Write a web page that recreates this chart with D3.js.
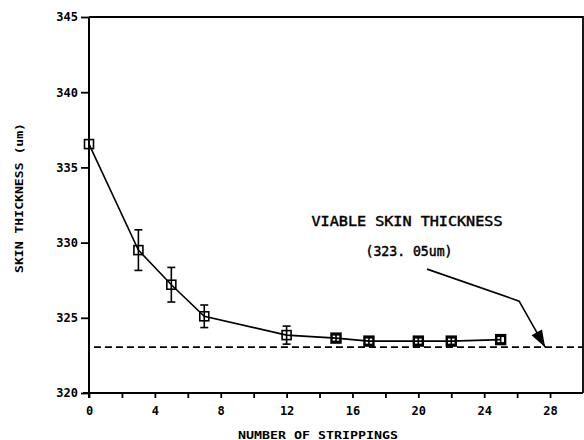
<!DOCTYPE html>
<html>
<head>
<meta charset="utf-8">
<script src="https://cdn.jsdelivr.net/npm/d3@7"></script>
<style>
  html, body { margin: 0; padding: 0; background: #fff; }
  svg { display: block; }
  text { fill: #000; }
</style>
</head>
<body>
<svg id="chart" width="584" height="440"></svg>
<script>
// Skin thickness after successive tape strippings
const strippings = [0, 3, 5, 7, 12, 15, 17, 20, 22, 25];
const thickness  = [336.55, 329.5, 327.2, 325.1, 323.85, 323.65, 323.45, 323.45, 323.45, 323.55];
const errHalf    = [0, 1.35, 1.15, 0.75, 0.6, 0.22, 0.22, 0.22, 0.22, 0.22];

const viableThickness = 323.05;
const arrowTipStripping = 27.7;

const xTicks = [0, 2, 4, 6, 8, 10, 12, 14, 16, 18, 20, 22, 24, 26, 28];
const xTickLabels = [0, 4, 8, 12, 16, 20, 24, 28];
const yTicks = [320, 325, 330, 335, 340, 345];

const xTitle = "NUMBER OF STRIPPINGS";
const yTitle = "SKIN THICKNESS (um)";
const noteLine1 = "VIABLE SKIN THICKNESS";
const noteLine2 = "(323. 05um)";

const svg = d3.select("#chart");
const plotL = 89, plotR = 583, plotT = 17, plotB = 393;

const x = d3.scaleLinear().domain([0, 30]).range([plotL, plotR]);
const y = d3.scaleLinear().domain([320, 345]).range([plotB, plotT]);

const mono = "'DejaVu Sans Mono', monospace";

// frame (top and right edges)
svg.append("path")
  .attr("d", `M${plotL},${plotT}H${plotR}V${plotB}`)
  .attr("fill", "none").attr("stroke", "#000").attr("stroke-width", 1.8);

// x axis
const xAxis = svg.append("g").attr("transform", `translate(0,${plotB})`)
  .call(d3.axisBottom(x).tickValues(xTicks).tickSize(5)
    .tickFormat(d => xTickLabels.includes(d) ? d : ""));
xAxis.select(".domain").attr("d", `M${plotL - 6},0H${plotR}`).attr("stroke-width", 2);
xAxis.selectAll(".tick line").attr("stroke-width", 1.8);
xAxis.selectAll(".tick text")
  .attr("font-family", mono).attr("font-weight", "bold").attr("font-size", 12)
  .attr("dy", "0.71em").attr("y", 13);

// y axis
const yAxis = svg.append("g").attr("transform", `translate(${plotL},0)`)
  .call(d3.axisLeft(y).tickValues(yTicks).tickSize(8).tickPadding(3));
yAxis.select(".domain").attr("d", `M0,${plotT}V${plotB + 5}`).attr("stroke-width", 2);
yAxis.selectAll(".tick line").attr("stroke-width", 1.8);
yAxis.selectAll(".tick text")
  .attr("font-family", mono).attr("font-weight", "bold").attr("font-size", 12);

// axis titles
svg.append("text")
  .attr("x", 318).attr("y", 439)
  .attr("text-anchor", "middle")
  .attr("font-family", mono).attr("font-weight", "bold").attr("font-size", 10)
  .attr("textLength", 160).attr("lengthAdjust", "spacingAndGlyphs")
  .text(xTitle);

svg.append("text")
  .attr("transform", `translate(23,198) rotate(-90)`)
  .attr("text-anchor", "middle")
  .attr("font-family", mono).attr("font-weight", "bold").attr("font-size", 10)
  .attr("textLength", 150).attr("lengthAdjust", "spacingAndGlyphs")
  .text(yTitle);

// viable thickness reference line
svg.append("line")
  .attr("x1", x(0.3)).attr("x2", plotR)
  .attr("y1", y(viableThickness)).attr("y2", y(viableThickness))
  .attr("stroke", "#000").attr("stroke-width", 1.6)
  .attr("stroke-dasharray", "7,4");

// data line
const pts = strippings.map((s, i) => ({ s, t: thickness[i], e: errHalf[i] }));
svg.append("path")
  .datum(pts)
  .attr("fill", "none").attr("stroke", "#000").attr("stroke-width", 1.6)
  .attr("d", d3.line().x(d => x(d.s)).y(d => y(d.t)));

// error bars
const eb = svg.append("g").attr("stroke", "#000").attr("stroke-width", 1.6);
pts.filter(d => d.e > 0).forEach(d => {
  const cx = x(d.s), y0 = y(d.t - d.e), y1 = y(d.t + d.e);
  eb.append("line").attr("x1", cx).attr("x2", cx).attr("y1", y0).attr("y2", y1);
  eb.append("line").attr("x1", cx - 4).attr("x2", cx + 4).attr("y1", y0).attr("y2", y0);
  eb.append("line").attr("x1", cx - 4).attr("x2", cx + 4).attr("y1", y1).attr("y2", y1);
});

// square markers (heavier where the bars sit inside the box)
svg.append("g").selectAll("rect").data(pts).join("rect")
  .attr("x", d => x(d.s) - 4.5).attr("y", d => y(d.t) - 4.5)
  .attr("width", 9).attr("height", 9)
  .attr("fill", "none").attr("stroke", "#000")
  .attr("stroke-width", d => d.e > 0 && d.e < 0.3 ? 2.4 : 1.6);

// annotation
svg.append("text")
  .attr("x", 407).attr("y", 226)
  .attr("text-anchor", "middle")
  .attr("font-family", mono).attr("font-size", 13.5)
  .attr("stroke", "#000").attr("stroke-width", 0.45)
  .attr("textLength", 191).attr("lengthAdjust", "spacingAndGlyphs")
  .text(noteLine1);
svg.append("text")
  .attr("x", 409).attr("y", 256)
  .attr("text-anchor", "middle")
  .attr("font-family", mono).attr("font-size", 13.5)
  .attr("stroke", "#000").attr("stroke-width", 0.45)
  .attr("textLength", 87).attr("lengthAdjust", "spacingAndGlyphs")
  .text(noteLine2);

// arrow to the reference line
const tipX = x(arrowTipStripping), tipY = y(viableThickness);
const bendX = tipX - 26, bendY = tipY - 46;
svg.append("path")
  .attr("d", `M${tipX - 118},${tipY - 78}L${bendX},${bendY}L${tipX},${tipY}`)
  .attr("fill", "none").attr("stroke", "#000").attr("stroke-width", 1.6);
const ang = Math.atan2(tipY - bendY, tipX - bendX);
const len = 17, half = 6;
const bx = tipX - len * Math.cos(ang), by = tipY - len * Math.sin(ang);
svg.append("path")
  .attr("d", `M${tipX},${tipY}L${bx + half * Math.sin(ang)},${by - half * Math.cos(ang)}L${bx - half * Math.sin(ang)},${by + half * Math.cos(ang)}Z`)
  .attr("fill", "#000");
</script>
</body>
</html>
